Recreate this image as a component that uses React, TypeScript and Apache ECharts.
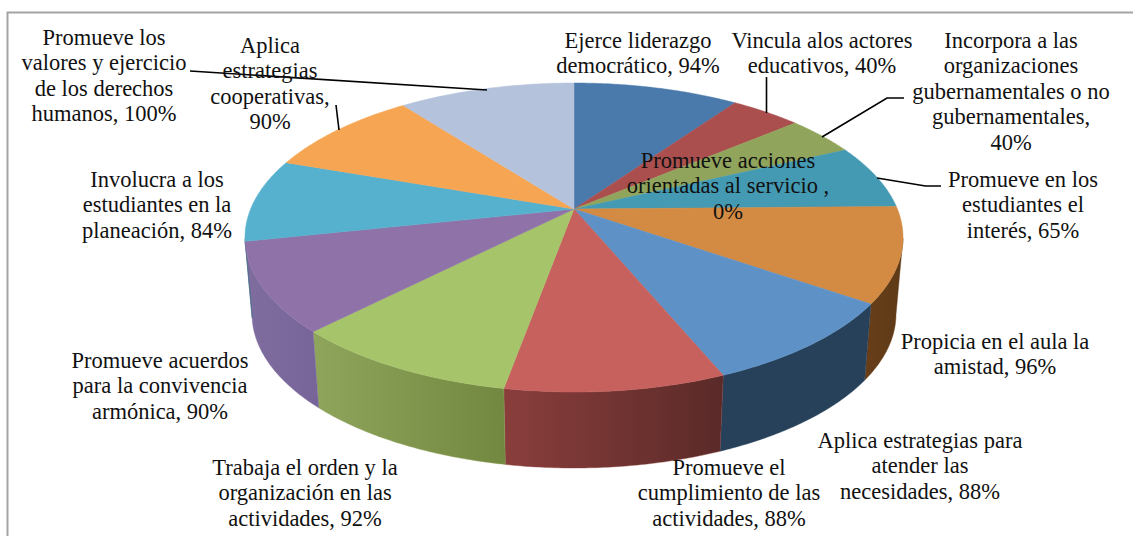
import React, { useEffect, useRef } from "react";
import * as echarts from "echarts";

const CATEGORIES = [
  "Ejerce liderazgo\ndemocrático, 94%",
  "Vincula alos actores\neducativos, 40%",
  "Incorpora a las\norganizaciones\ngubernamentales o no\ngubernamentales,\n40%",
  "Promueve acciones\norientadas al servicio ,\n0%",
  "Promueve en los\nestudiantes el\ninterés, 65%",
  "Propicia en el aula la\namistad, 96%",
  "Aplica estrategias para\natender las\nnecesidades, 88%",
  "Promueve el\ncumplimiento de las\nactividades, 88%",
  "Trabaja el orden y la\norganización en las\nactividades, 92%",
  "Promueve acuerdos\npara la convivencia\narmónica, 90%",
  "Involucra a los\nestudiantes en la\nplaneación, 84%",
  "Aplica\nestrategias\ncooperativas,\n90%",
  "Promueve los\nvalores y ejercicio\nde los derechos\nhumanos, 100%",
];
const VALUES = [94, 40, 40, 0, 65, 96, 88, 88, 92, 90, 84, 90, 100];
const TOP_COLORS = [
  "#4A7AAB", "#AA4F4E", "#90A55B", "#7A6398", "#449AB3", "#D38A42", "#5E92C7",
  "#C6615E", "#A6C46A", "#8F73A8", "#56B1CE", "#F6A553", "#B4C2DC",
];
const WALL_COLORS: [string, string][] = [
  ["#2E4C6B", "#2E4C6B"], ["#6A3130", "#6A3130"], ["#5A6738", "#5A6738"], ["#4B3D5F", "#4B3D5F"],
  ["#2A6070", "#2A6070"], ["#683E18", "#5E3A18"], ["#27415A", "#27415A"],
  ["#8A3E3C", "#5A2A28"], ["#8FA55C", "#72873F"], ["#7F6D9F", "#77659A"],
  ["#357080", "#357080"], ["#9A6733", "#9A6733"], ["#707A8A", "#707A8A"],
];
// label anchor: centre x, first line's centre y
const LABEL_POS = [
  [638, 40], [822, 40], [1011, 40], [728, 160], [1023, 179], [995, 341], [920, 440],
  [729, 467], [305, 467], [160, 360], [157, 179], [270, 45], [104, 37],
];
const LEADERS = [
  [[190, 71], [487, 90]],
  [[336, 105], [339, 130]],
  [[766.5, 77], [766.5, 113]],
  [[904, 98], [887, 98], [822, 137]],
  [[941, 186], [925.5, 186], [877, 178]],
];

const CX = 574, TOP_CY = 237.5, RX = 329, RY = 154.5;
const BOT_CY = 314, BOT_RX = 322, BOT_RY = 154;
const E = 0.184; // perspective shift of the pie's apex
const TOTAL = VALUES.reduce((a, b) => a + b, 0);

// maps the true slice angle (clockwise from 12 o'clock) to the ellipse angle
function project(a: number) {
  const c = Math.cos(a), s = Math.sin(a), d = 1 + E * c;
  return { cos: (c + E) / d, sin: (s * Math.sqrt(1 - E * E)) / d };
}
const topPt = (a: number) => {
  const p = project(a);
  return [CX + RX * p.sin, TOP_CY - RY * p.cos];
};
const botPt = (a: number) => {
  const p = project(a);
  return [CX + BOT_RX * p.sin, BOT_CY - BOT_RY * p.cos];
};
function range(i: number, value: number) {
  const before = VALUES.slice(0, i).reduce((a, b) => a + b, 0);
  const a0 = (before / TOTAL) * Math.PI * 2;
  return [a0, a0 + (value / TOTAL) * Math.PI * 2];
}
function samples(a0: number, a1: number) {
  const n = Math.max(2, Math.ceil((a1 - a0) / 0.01));
  return Array.from({ length: n + 1 }, (_, k) => a0 + ((a1 - a0) * k) / n);
}

export default function App() {
  const ref = useRef<HTMLDivElement>(null);
  useEffect(() => {
    const chart = echarts.init(ref.current!, undefined, { renderer: "svg" });
    const font = '"Liberation Serif", serif';
    chart.setOption({
      animation: false,
      backgroundColor: "#fff",
      series: [
        {
          type: "custom",
          coordinateSystem: "none",
          silent: true,
          z: 2,
          data: VALUES,
          renderItem: (params: any, api: any) => {
            const i = params.dataIndex;
            const v = api.value(0);
            if (!v) return { type: "group", children: [] };
            const [a0, a1] = range(i, v);
            const front = samples(a0, a1).filter((a) => project(a).cos <= 0.001);
            if (front.length < 2) return { type: "group", children: [] };
            const pts = [...front.map(topPt), ...front.slice().reverse().map(botPt)];
            const [cl, cr] = WALL_COLORS[i];
            const fill = new echarts.graphic.LinearGradient(0, 0, 1, 0, [
              { offset: 0, color: cl },
              { offset: 1, color: cr },
            ]);
            return { type: "polygon", shape: { points: pts }, style: { fill, stroke: cl, lineWidth: 0.4 } };
          },
        },
        {
          type: "custom",
          coordinateSystem: "none",
          silent: true,
          z: 3,
          data: VALUES,
          renderItem: (params: any, api: any) => {
            const i = params.dataIndex;
            const v = api.value(0);
            if (!v) return { type: "group", children: [] };
            const [a0, a1] = range(i, v);
            const apex = [CX, TOP_CY - E * RY];
            const pts = [apex, ...samples(a0, a1).map(topPt)];
            const color = TOP_COLORS[i];
            return { type: "polygon", shape: { points: pts }, style: { fill: color, stroke: color, lineWidth: 0.5 } };
          },
        },
      ],
      graphic: [
        {
          type: "polyline",
          z: 1,
          shape: { points: [[1140, 12.5], [7.5, 12.5], [7.5, 540]] },
          style: { stroke: "#A3A3A3", lineWidth: 2, fill: "none" },
        },
        ...LEADERS.map((points) => ({
          type: "polyline",
          z: 10,
          shape: { points },
          style: { stroke: "#000", lineWidth: 1.6, fill: "none" },
        })),
        ...CATEGORIES.map((text, i) => ({
          type: "text",
          z: 20,
          x: LABEL_POS[i][0],
          y: LABEL_POS[i][1] - 12.75,
          style: {
            text,
            fill: "#111",
            font: `22.5px ${font}`,
            lineHeight: 25.5,
            align: "center",
            verticalAlign: "top",
          },
        })),
      ],
    });
    return () => chart.dispose();
  }, []);
  return <div ref={ref} style={{ position: "fixed", left: 0, top: 0, width: 1133, height: 536 }} />;
}
